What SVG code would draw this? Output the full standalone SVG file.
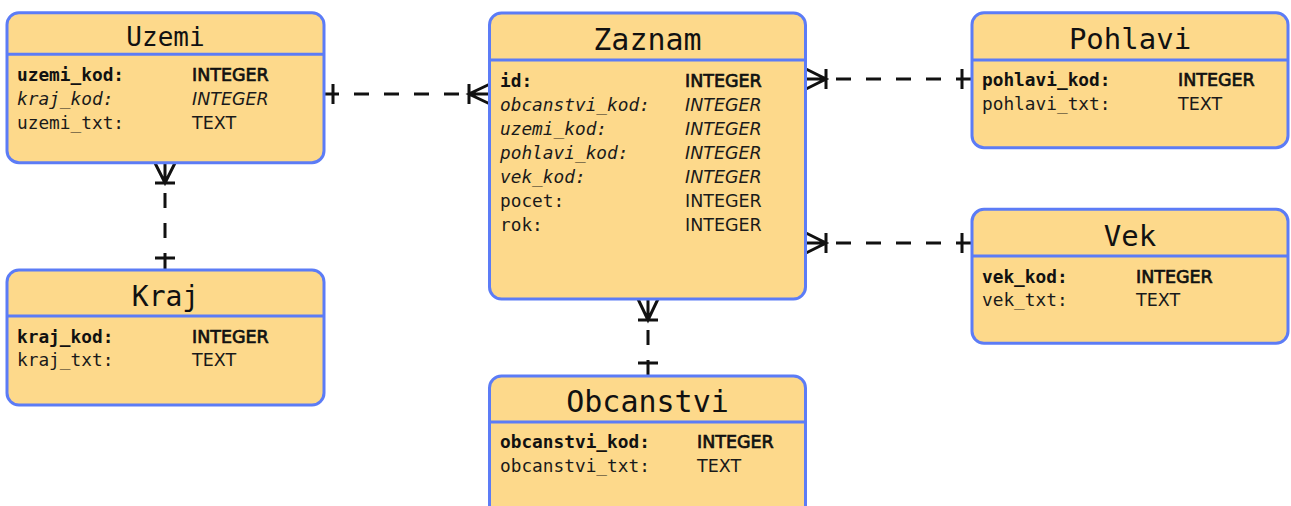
<svg xmlns="http://www.w3.org/2000/svg" width="1291" height="506" viewBox="0 0 1291 506">
<style>
.box{fill:#fdd98b;stroke:#5c7cf6;stroke-width:3}
.hdr{stroke:#5c7cf6;stroke-width:3}
.title{font-family:"DejaVu Sans Mono",monospace;fill:#111;text-anchor:middle}
.f{font-family:"DejaVu Sans Mono",monospace;font-size:17.8px;fill:#1a1a1a}
.t{font-family:"DejaVu Sans",sans-serif;font-size:17.5px;fill:#1a1a1a}
.f.pk{font-weight:bold;fill:#111}
.t.pk{fill:#111;stroke:#111;stroke-width:0.7}
.fk{font-style:italic}
.m{fill:none;stroke:#111;stroke-width:3}
.d{fill:none;stroke:#111;stroke-width:3;stroke-dasharray:15 15;stroke-dashoffset:20}
</style>
<rect width="1291" height="506" fill="#fff"/>
<g id="connectors">
<path class="d" d="M469,94 H333"/>
<path class="m" d="M333,84 V104 M324,94 H333 M469,84 V104 M490,84 L469,94 L490,104 M469,94 H490"/>
<path class="d" d="M165,183 V258"/>
<path class="m" d="M155,163 L165,183 L175,163 M165,163 V183 M155,183 H175 M155,258 H175 M165,258 V270"/>
<path class="d" d="M826,79 H962"/>
<path class="m" d="M806,69 L826,79 L806,89 M806,79 H826 M826,69 V89 M962,69 V89 M962,79 H972"/>
<path class="d" d="M826,243 H962"/>
<path class="m" d="M806,233 L826,243 L806,253 M806,243 H826 M826,233 V253 M962,233 V253 M962,243 H972"/>
<path class="d" d="M648,320 V363"/>
<path class="m" d="M638,299 L648,320 L658,299 M648,299 V320 M638,320 H658 M638,363 H658 M648,363 V376"/>
</g>
<g id="Uzemi">
<rect class="box" x="7" y="12.7" width="317" height="150" rx="12"/>
<line class="hdr" x1="7" y1="54.3" x2="324" y2="54.3"/>
<text class="title" x="165.5" y="45.7" font-size="26">Uzemi</text>
<text class="f pk" x="17" y="81">uzemi_kod:</text><text class="t pk" x="192" y="81">INTEGER</text>
<text class="f fk" x="17" y="105">kraj_kod:</text><text class="t fk" x="192" y="105">INTEGER</text>
<text class="f" x="17" y="129">uzemi_txt:</text><text class="t" x="192" y="129">TEXT</text>
</g>
<g id="Kraj">
<rect class="box" x="7" y="270" width="317" height="135" rx="12"/>
<line class="hdr" x1="7" y1="316" x2="324" y2="316"/>
<text class="title" x="165.5" y="305.7" font-size="28">Kraj</text>
<text class="f pk" x="17" y="342.7">kraj_kod:</text><text class="t pk" x="192" y="342.7">INTEGER</text>
<text class="f" x="17" y="366">kraj_txt:</text><text class="t" x="192" y="366">TEXT</text>
</g>
<g id="Zaznam">
<rect class="box" x="489.5" y="13" width="316" height="286" rx="12"/>
<line class="hdr" x1="489.5" y1="60" x2="805.5" y2="60"/>
<text class="title" x="647.5" y="49.5" font-size="30">Zaznam</text>
<text class="f pk" x="500" y="86.7">id:</text><text class="t pk" x="685" y="86.7">INTEGER</text>
<text class="f fk" x="500" y="110.7">obcanstvi_kod:</text><text class="t fk" x="685" y="110.7">INTEGER</text>
<text class="f fk" x="500" y="134.7">uzemi_kod:</text><text class="t fk" x="685" y="134.7">INTEGER</text>
<text class="f fk" x="500" y="158.7">pohlavi_kod:</text><text class="t fk" x="685" y="158.7">INTEGER</text>
<text class="f fk" x="500" y="182.7">vek_kod:</text><text class="t fk" x="685" y="182.7">INTEGER</text>
<text class="f" x="500" y="206.7">pocet:</text><text class="t" x="685" y="206.7">INTEGER</text>
<text class="f" x="500" y="230.7">rok:</text><text class="t" x="685" y="230.7">INTEGER</text>
</g>
<g id="Obcanstvi">
<rect class="box" x="489.5" y="376" width="316" height="150" rx="12"/>
<line class="hdr" x1="489.5" y1="422" x2="805.5" y2="422"/>
<text class="title" x="647.5" y="411.7" font-size="30">Obcanstvi</text>
<text class="f pk" x="500" y="448">obcanstvi_kod:</text><text class="t pk" x="697" y="448">INTEGER</text>
<text class="f" x="500" y="472">obcanstvi_txt:</text><text class="t" x="697" y="472">TEXT</text>
</g>
<g id="Pohlavi">
<rect class="box" x="972" y="12.7" width="316" height="135" rx="12"/>
<line class="hdr" x1="972" y1="60" x2="1288" y2="60"/>
<text class="title" x="1130" y="49.3" font-size="29">Pohlavi</text>
<text class="f pk" x="982" y="86">pohlavi_kod:</text><text class="t pk" x="1178" y="86">INTEGER</text>
<text class="f" x="982" y="110">pohlavi_txt:</text><text class="t" x="1178" y="110">TEXT</text>
</g>
<g id="Vek">
<rect class="box" x="972" y="209.3" width="316" height="134" rx="12"/>
<line class="hdr" x1="972" y1="256" x2="1288" y2="256"/>
<text class="title" x="1130" y="245.7" font-size="29">Vek</text>
<text class="f pk" x="982" y="282.7">vek_kod:</text><text class="t pk" x="1136" y="282.7">INTEGER</text>
<text class="f" x="982" y="306">vek_txt:</text><text class="t" x="1136" y="306">TEXT</text>
</g>
</svg>
